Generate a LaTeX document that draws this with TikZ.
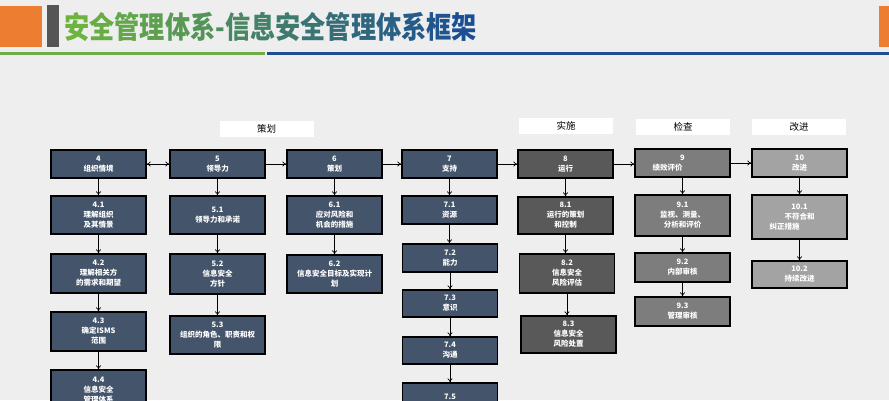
\documentclass[tikz,border=0pt]{standalone}
\usepackage{fontspec}
\setmainfont{Noto Sans CJK SC}
\usetikzlibrary{arrows.meta}
\definecolor{bgc}{HTML}{EEEEEE}
\definecolor{orng}{HTML}{ED7D31}
\definecolor{bargray}{HTML}{555555}
\definecolor{tgrn}{HTML}{6CB33F}
\definecolor{tblu}{HTML}{1B4E94}
\definecolor{lgrn}{HTML}{70AD47}
\definecolor{lblu}{HTML}{1F4E8C}
\definecolor{slate}{HTML}{44546A}
\definecolor{dogray}{HTML}{595959}
\definecolor{chkgray}{HTML}{7D7D7D}
\definecolor{actgray}{HTML}{A3A3A3}

\begin{document}
\begin{tikzpicture}[x=1pt,y=-1pt,
	box/.style={draw=black, line width=1.2pt, text=white, align=center, minimum width=95pt, inner sep=1pt,
		font=\bfseries\fontsize{7.5}{10}\selectfont},
	planbox/.style={box, fill=slate},
	dobox/.style={box, fill=dogray},
	chkbox/.style={box, fill=chkgray},
	actbox/.style={box, fill=actgray},
	headbox/.style={fill=white, minimum width=94pt, minimum height=16pt, inner sep=0pt, font=\fontsize{9.5}{11}\selectfont},
	arr/.style={-{To[length=4pt,width=5pt]}, line width=0.6pt}]
	\useasboundingbox (0,0) rectangle (889,400);
	\clip (0,0) rectangle (889,400);
	\fill[bgc] (0,0) rectangle (889,400);
	
	% title bar
	\fill[orng] (0,6) rectangle (42,47);
	\fill[bargray] (47,5) rectangle (59,47);
	\fill[orng] (879,6) rectangle (889,47);
	\node (title) at (64,27) [anchor=west, inner sep=0pt, yscale=1.2, transform shape, font=\bfseries\fontsize{25.2}{26}\selectfont]
	{\foreach \c [count=\i from 0] in {安,全,管,理,体,系,-,信,息,安,全,管,理,体,系,框,架}{\pgfmathtruncatemacro\p{\i*100/16}\textcolor{tblu!\p!tgrn}{\c}}};
	\draw[lgrn, line width=2.5pt] (0,53.5) -- (265,53.5);
	\draw[lblu, line width=2.5pt] (267,53.5) -- (889,53.5);
	
	% phases
	\node[headbox] (hplan) at (266.5,129) {策划};
	\node[headbox] (hdo) at (566,126) {实施};
	\node[headbox] (hchk) at (683,127) {检查};
	\node[headbox] (hact) at (799,127) {改进};
	
	% main clauses
	\node[planbox, minimum height=28pt] (c4) at (98.5,164) {4\\组织情境};
	\node[planbox, minimum height=28pt] (c5) at (217.5,164) {5\\领导力};
	\node[planbox, minimum height=28pt] (c6) at (334.5,164) {6\\策划};
	\node[planbox, minimum height=28pt] (c7) at (449.5,164) {7\\支持};
	\node[dobox, minimum height=28pt] (c8) at (565.5,164) {8\\运行};
	\node[chkbox, minimum height=28pt] (c9) at (682.5,163) {9\\绩效评价\hspace*{30pt}};
	\node[actbox, minimum height=28pt] (c10) at (799.5,163) {10\\改进};
	
	% clause 4
	\node[planbox, minimum height=38pt] (c41) at (98.5,215) {4.1\\理解组织\\及其情景};
	\node[planbox, minimum height=39pt] (c42) at (98.5,273.5) {4.2\\理解相关方\\的需求和期望};
	\node[planbox, minimum height=39pt] (c43) at (98.5,331.5) {4.3\\确定ISMS\\范围};
	\node[planbox, minimum height=40pt] (c44) at (98.5,390) {4.4\\信息安全\\管理体系};
	
	% clause 5
	\node[planbox, minimum height=38pt] (c51) at (217.5,215) {5.1\\领导力和承诺};
	\node[planbox, minimum height=40pt] (c52) at (217.5,274) {5.2\\信息安全\\方针};
	\node[planbox, minimum height=38pt] (c53) at (217.5,335) {5.3\\组织的角色、职责和权\\限};
	
	% clause 6
	\node[planbox, minimum height=38pt] (c61) at (334.5,215) {6.1\\应对风险和\\机会的措施};
	\node[planbox, minimum height=38pt] (c62) at (334.5,274) {6.2\\信息安全目标及实现计\\划};
	
	% clause 7
	\node[planbox, minimum height=28pt] (c71) at (449.5,210) {7.1\\资源};
	\node[planbox, minimum height=28pt] (c72) at (450,258) {7.2\\能力};
	\node[planbox, minimum height=27pt] (c73) at (450,303.5) {7.3\\意识};
	\node[planbox, minimum height=27pt] (c74) at (450,350.5) {7.4\\沟通};
	\node[planbox, minimum height=28pt] (c75) at (450,397) {7.5};
	
	% clause 8
	\node[dobox, minimum height=37pt] (c81) at (565.5,215.5) {8.1\\运行的策划\\和控制};
	\node[dobox, minimum height=39pt] (c82) at (567,273.5) {8.2\\信息安全\\风险评估};
	\node[dobox, minimum height=37pt] (c83) at (568.5,334.5) {8.3\\信息安全\\风险处置};
	
	% clause 9
	\node[chkbox, minimum height=41pt] (c91) at (682.5,215.5) {9.1\\监视、测量、\\分析和评价};
	\node[chkbox, minimum height=29pt] (c92) at (682.5,267.5) {9.2\\内部审核};
	\node[chkbox, minimum height=29pt] (c93) at (682.5,311.5) {9.3\\管理审核};
	
	% clause 10
	\node[actbox, minimum height=44pt] (c101) at (799.5,217) {10.1\\不符合和\\纠正措施\hspace*{30pt}};
	\node[actbox, minimum height=27pt] (c102) at (799.5,274.5) {10.2\\持续改进};
	
	% arrows
	\draw[line width=0.6pt, {To[length=4pt,width=5pt]}-{To[length=4pt,width=5pt]}] (c4.east) -- (c5.west);
	\foreach \a/\b in {c5/c6,c6/c7,c7/c8,c8/c9,c9/c10}
		\draw[arr] (\a.east) -- (\a.east -| \b.west);
	\foreach \a/\b in {c4/c41,c41/c42,c42/c43,c43/c44,c5/c51,c51/c52,c52/c53,c6/c61,c61/c62,
		c7/c71,c71/c72,c72/c73,c73/c74,c74/c75,c8/c81,c81/c82,c82/c83,c9/c91,c91/c92,c92/c93,c10/c101,c101/c102}
		\draw[arr] (\a.south) -- (\a.south |- \b.north);
\end{tikzpicture}
\end{document}
